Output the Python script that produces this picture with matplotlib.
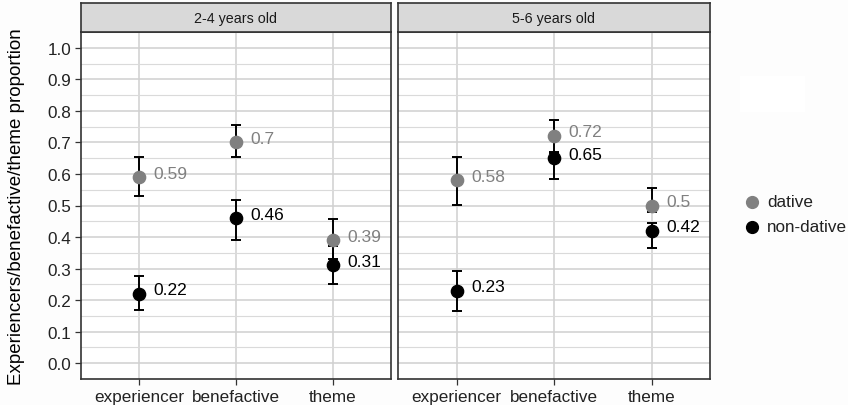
import matplotlib
matplotlib.use('Agg')
import matplotlib.pyplot as plt
from matplotlib.patches import Rectangle
from matplotlib.ticker import MultipleLocator
import numpy as np

plt.rcParams['font.family'] = ['Liberation Sans', 'DejaVu Sans']

categories = ['experiencer', 'benefactive', 'theme']
panels = ['2-4 years old', '5-6 years old']
groups = ['dative', 'non-dative']
colors = {'dative': '#808080', 'non-dative': '#000000'}

# mean, lower, upper per panel / group
means = {
    '2-4 years old': {'dative': [0.59, 0.70, 0.39], 'non-dative': [0.22, 0.46, 0.31]},
    '5-6 years old': {'dative': [0.58, 0.72, 0.50], 'non-dative': [0.23, 0.65, 0.42]},
}
lower = {
    '2-4 years old': {'dative': [0.53, 0.655, 0.329], 'non-dative': [0.168, 0.392, 0.25]},
    '5-6 years old': {'dative': [0.503, 0.67, 0.478], 'non-dative': [0.165, 0.585, 0.364]},
}
upper = {
    '2-4 years old': {'dative': [0.655, 0.756, 0.456], 'non-dative': [0.275, 0.519, 0.373]},
    '5-6 years old': {'dative': [0.655, 0.772, 0.554], 'non-dative': [0.291, 0.668, 0.446]},
}

W, H = 848, 406
fig = plt.figure(figsize=(W / 100, H / 100), dpi=100)
fig.patch.set_facecolor('#fdfdfd')

panel_x = [(81, 391), (398, 710)]
top, bottom, strip_top = 33, 380, 4

x = np.arange(1, len(categories) + 1)
for i, (panel, (x0, x1)) in enumerate(zip(panels, panel_x)):
    ax = fig.add_axes([x0 / W, 1 - bottom / H, (x1 - x0) / W, (bottom - top) / H])
    ax.set_facecolor('white')
    ax.set_xlim(0.4, 3.6)
    ax.set_ylim(-0.05, 1.05)
    ax.yaxis.set_major_locator(MultipleLocator(0.1))
    ax.yaxis.set_minor_locator(MultipleLocator(0.05))
    ax.set_xticks(x)
    ax.set_xticklabels(categories)
    ax.grid(which='major', color='#d0d0d0', linewidth=1.1)
    ax.grid(which='minor', axis='y', color='#dadada', linewidth=0.8)
    ax.set_axisbelow(True)
    for s in ax.spines.values():
        s.set_color('#333333')
        s.set_linewidth(1.2)
    ax.tick_params(axis='both', labelsize=12.3, colors='#333333', length=4, width=0.9,
                   labelcolor='#222222', pad=3)
    ax.tick_params(which='minor', length=0)
    if i == 0:
        ax.set_yticklabels([f'{v:.1f}' for v in ax.get_yticks()])
        ax.set_ylabel('Experiencers/benefactive/theme proportion', fontsize=13.5)
        ax.yaxis.set_label_coords(-0.182, 0.5)
    else:
        ax.tick_params(axis='y', left=False, labelleft=False)

    for g in groups:
        m = np.array(means[panel][g])
        lo = np.array(lower[panel][g])
        hi = np.array(upper[panel][g])
        ax.errorbar(x, m, yerr=[m - lo, hi - m], fmt='none', ecolor='black',
                    elinewidth=1.4, capsize=3.7, capthick=1.4, zorder=3)
        ax.scatter(x, m, s=78, color=colors[g], zorder=4)
        for xi, mi in zip(x, m):
            ax.text(xi + 0.15, mi + 0.013, f'{mi:g}', color=colors[g], fontsize=12.5,
                    va='center', ha='left', zorder=5)

    # facet strip
    sax = fig.add_axes([x0 / W, 1 - top / H, (x1 - x0) / W, (top - strip_top) / H])
    sax.set_facecolor('#d9d9d9')
    sax.set_xticks([])
    sax.set_yticks([])
    for s in sax.spines.values():
        s.set_color('#333333')
        s.set_linewidth(1.2)
    sax.text(0.5, 0.5, panel, ha='center', va='center', fontsize=10.3, color='#1a1a1a',
             transform=sax.transAxes)

# legend (empty title box + entries)
fig.patches.append(Rectangle((740 / W, 1 - 113 / H), 65 / W, 36 / H,
                             transform=fig.transFigure, facecolor='white', edgecolor='none'))
for j, g in enumerate(groups):
    yy = 1 - (203 + 25 * j) / H
    fig.lines.append(plt.Line2D([752 / W], [yy], marker='o', markersize=8.5, color=colors[g],
                                linestyle='none', transform=fig.transFigure))
    fig.text(767 / W, yy, g, fontsize=12.3, va='center', ha='left', color='#222222')

fig.savefig('out.png', dpi=100, facecolor=fig.get_facecolor())
